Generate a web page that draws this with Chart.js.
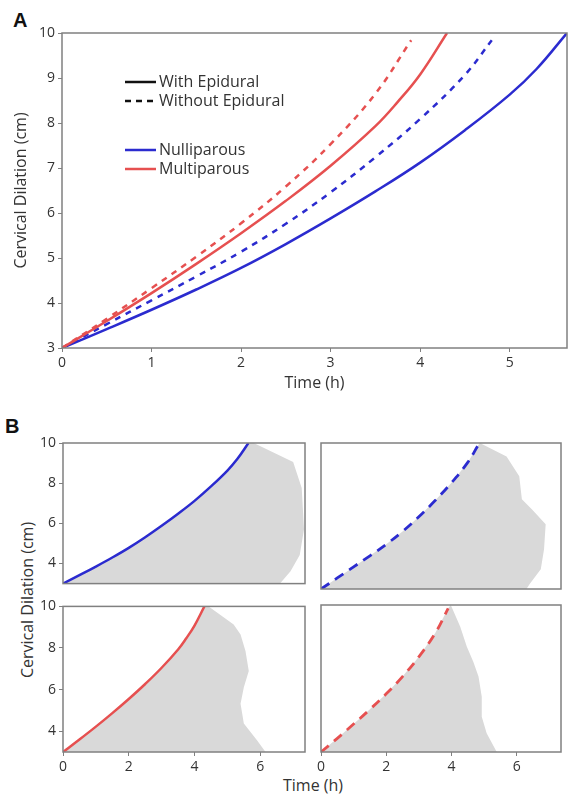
<!DOCTYPE html>
<html>
<head>
<meta charset="utf-8">
<script src="https://cdn.jsdelivr.net/npm/chart.js@4.4.0/dist/chart.umd.min.js"></script>
<style>
  body { margin: 0; background: #fff; width: 569px; height: 797px; position: relative; overflow: hidden; font-family: "Open Sans", sans-serif; color: #333; }
  canvas { position: absolute; }
  .panel { position: absolute; font: bold 20px "Liberation Sans", Arial, sans-serif; line-height: 20px; color: #111; }
  .title { position: absolute; width: 220px; text-align: center; font-size: 16px; line-height: 20px; color: #333; }
</style>
</head>
<body>
<div class="panel" style="left:13px;top:10px">A</div>
<div class="panel" style="left:5px;top:416px">B</div>
<div class="title" style="left:-83px;top:590px;transform:rotate(-90deg)">Cervical Dilation (cm)</div>
<div class="title" style="left:203px;top:775px">Time (h)</div>
<canvas id="chartA"></canvas>
<canvas id="chartB1"></canvas>
<canvas id="chartB2"></canvas>
<canvas id="chartB3"></canvas>
<canvas id="chartB4"></canvas>
<script>
// Data

const xTicksA = [0, 1, 2, 3, 4, 5];
const yTicksA = [3, 4, 5, 6, 7, 8, 9, 10];
const xTicksB = [0, 2, 4, 6];
const yTicksB = [4, 6, 8, 10];
const legendLabels = ["With Epidural", "Without Epidural", "Nulliparous", "Multiparous"];

// fitted curves: time (h) -> dilation (cm)
const nulliEpiTime = [0, 0.5, 1, 1.5, 2, 2.5, 3, 3.5, 4, 4.5, 5, 5.3, 5.64];
const nulliEpiDil = [3, 3.42, 3.85, 4.3, 4.78, 5.31, 5.88, 6.48, 7.12, 7.84, 8.63, 9.2, 10];
const nulliNoEpiTime = [0, 0.5, 1, 1.5, 2, 2.5, 3, 3.5, 4, 4.5, 4.8];
const nulliNoEpiDil = [3, 3.53, 4.06, 4.59, 5.14, 5.76, 6.46, 7.24, 8.09, 9.07, 9.84];
const multiEpiTime = [0, 0.5, 1, 1.5, 2, 2.5, 3, 3.5, 3.75, 4, 4.3];
const multiEpiDil = [3, 3.6, 4.22, 4.87, 5.55, 6.27, 7.05, 7.93, 8.47, 9.08, 10];
const multiNoEpiTime = [0, 0.5, 1, 1.5, 2, 2.5, 3, 3.5, 3.9];
const multiNoEpiDil = [3, 3.65, 4.33, 5.03, 5.77, 6.59, 7.53, 8.65, 9.84];

// grey spread in panel B: right-hand edge, from 10 cm down to 3 cm
const nulliEpiEdgeTime = [5.8, 7.0, 7.26, 7.33, 7.2, 6.92, 6.6];
const nulliEpiEdgeDil = [10, 9.05, 7.76, 5.7, 4.43, 3.62, 3];
const nulliNoEpiEdgeTime = [4.87, 5.69, 6.08, 6.16, 6.48, 6.89, 6.84, 6.74, 6.4, 6.3];
const nulliNoEpiEdgeDil = [10, 9.35, 8.4, 7.3, 6.8, 6.1, 4.9, 3.95, 3.24, 3];
const multiEpiEdgeTime = [4.43, 5.19, 5.4, 5.55, 5.65, 5.5, 5.4, 5.5, 5.9, 6.16];
const multiEpiEdgeDil = [10, 9.13, 8.65, 7.86, 6.9, 6.11, 5.32, 4.37, 3.57, 3];
const multiNoEpiEdgeTime = [3.98, 4.27, 4.47, 4.67, 4.83, 4.93, 4.93, 5.08, 5.39];
const multiNoEpiEdgeDil = [10, 8.97, 8.02, 7.3, 6.59, 5.63, 4.68, 3.89, 3];

// Style

const blue = "#2b2bcf";
const red = "#e65050";
const grey = "#d9d9d9";
const frameColor = "#808080";
Chart.defaults.font.family = "'Open Sans', sans-serif";
Chart.defaults.color = "#333";

const pts = (t, d) => t.map((x, i) => ({ x, y: d[i] }));

const curve = (t, d, color, dash, width) => ({
  data: pts(t, d),
  showLine: true,
  borderColor: color,
  borderWidth: width,
  borderDash: dash,
  pointRadius: 0,
  fill: false,
  tension: 0.4,
});

const spread = (t, d, et, ed) => ({
  data: pts(t, d).concat(pts(et, ed)),
  showLine: true,
  borderColor: "rgba(0,0,0,0)",
  borderWidth: 0,
  backgroundColor: grey,
  pointRadius: 0,
  fill: "shape",
  tension: 0,
});

const framePlugin = {
  id: "frame",
  afterDraw(chart) {
    const { ctx, chartArea: a } = chart;
    ctx.save();
    ctx.strokeStyle = frameColor;
    ctx.lineWidth = 1.5;
    ctx.strokeRect(a.left, a.top, a.right - a.left, a.bottom - a.top);
    ctx.restore();
  },
};

const legendPlugin = {
  id: "legendA",
  afterDraw(chart) {
    const ctx = chart.ctx;
    const rows = [
      { color: "#111", dash: [], y: 82 },
      { color: "#111", dash: [6, 5], y: 101 },
      { color: blue, dash: [], y: 150 },
      { color: red, dash: [], y: 169 },
    ];
    ctx.save();
    ctx.font = "16px 'Open Sans', sans-serif";
    ctx.textBaseline = "middle";
    rows.forEach((r, i) => {
      ctx.strokeStyle = r.color;
      ctx.lineWidth = 2.5;
      ctx.setLineDash(r.dash);
      ctx.beginPath();
      ctx.moveTo(125, r.y);
      ctx.lineTo(156, r.y);
      ctx.stroke();
      ctx.fillStyle = "#333";
      ctx.fillText(legendLabels[i], 159, r.y);
    });
    ctx.restore();
  },
};

const axis = (min, max, ticks, size, labels, marks, title) => ({
  type: "linear",
  min,
  max,
  afterBuildTicks: (s) => {
    s.ticks = ticks.map((v) => ({ value: v }));
  },
  afterFit: (s) => {
    if (s.isHorizontal()) s.height = size;
    else s.width = size;
  },
  border: { display: false },
  grid: { drawOnChartArea: false, drawTicks: marks, tickLength: 4, color: frameColor },
  ticks: { display: labels, padding: 3, font: { size: 14 }, color: "#333", maxRotation: 0, autoSkip: false },
  title: title || { display: false },
});

// box = canvas [left, top, width, height], area = plot [left, top, right, bottom]
const makeChart = (id, box, area, datasets, xAxis, yAxis, extra) => {
  const canvas = document.getElementById(id);
  canvas.style.left = box[0] + "px";
  canvas.style.top = box[1] + "px";
  canvas.width = box[2];
  canvas.height = box[3];
  return new Chart(canvas, {
    type: "scatter",
    data: { datasets },
    options: {
      responsive: false,
      animation: false,
      layout: { padding: { left: 0, top: area[1] - box[1], right: box[0] + box[2] - area[2], bottom: 0 } },
      plugins: { legend: { display: false }, tooltip: { enabled: false } },
      scales: { x: xAxis, y: yAxis },
    },
    plugins: [framePlugin].concat(extra || []),
  });
};

// Panel A

const dashA = [6, 6];
makeChart(
  "chartA",
  [0, 0, 569, 400],
  [62, 33, 567, 348],
  [
    curve(multiNoEpiTime, multiNoEpiDil, red, dashA, 2.5),
    curve(multiEpiTime, multiEpiDil, red, [], 2.5),
    curve(nulliNoEpiTime, nulliNoEpiDil, blue, dashA, 2.5),
    curve(nulliEpiTime, nulliEpiDil, blue, [], 2.5),
  ],
  axis(0, 5.64, xTicksA, 52, true, true, {
    display: true, text: "Time (h)", font: { size: 16 }, color: "#333", padding: { top: 4, bottom: 7 },
  }),
  axis(3, 10, yTicksA, 62, true, true, {
    display: true, text: "Cervical Dilation (cm)", font: { size: 16 }, color: "#333", padding: { top: 12, bottom: 4 },
  }),
  [legendPlugin]
);

// Panel B

const dashB = [10, 7];
const xMaxB = 7.36;
makeChart(
  "chartB1",
  [0, 430, 310, 165],
  [63, 443, 305, 589],
  [curve(nulliEpiTime, nulliEpiDil, blue, [], 2.5), spread(nulliEpiTime, nulliEpiDil, nulliEpiEdgeTime, nulliEpiEdgeDil)],
  axis(0, xMaxB, xTicksB, 6, false, false),
  axis(3, 10, yTicksB, 63, true, true)
);
makeChart(
  "chartB2",
  [310, 430, 259, 165],
  [321, 443, 561, 589],
  [curve(nulliNoEpiTime, nulliNoEpiDil, blue, dashB, 2.8), spread(nulliNoEpiTime, nulliNoEpiDil, nulliNoEpiEdgeTime, nulliNoEpiEdgeDil)],
  axis(0, xMaxB, xTicksB, 6, false, false),
  axis(3, 10, yTicksB, 11, false, false)
);
makeChart(
  "chartB3",
  [0, 595, 310, 202],
  [63, 605, 305, 752],
  [curve(multiEpiTime, multiEpiDil, red, [], 2.5), spread(multiEpiTime, multiEpiDil, multiEpiEdgeTime, multiEpiEdgeDil)],
  axis(0, xMaxB, xTicksB, 45, true, true),
  axis(3, 10, yTicksB, 63, true, true)
);
makeChart(
  "chartB4",
  [310, 595, 259, 202],
  [321, 605, 561, 752],
  [curve(multiNoEpiTime, multiNoEpiDil, red, dashB, 2.8), spread(multiNoEpiTime, multiNoEpiDil, multiNoEpiEdgeTime, multiNoEpiEdgeDil)],
  axis(0, xMaxB, xTicksB, 45, true, true),
  axis(3, 10, yTicksB, 11, false, false)
);
</script>
</body>
</html>
